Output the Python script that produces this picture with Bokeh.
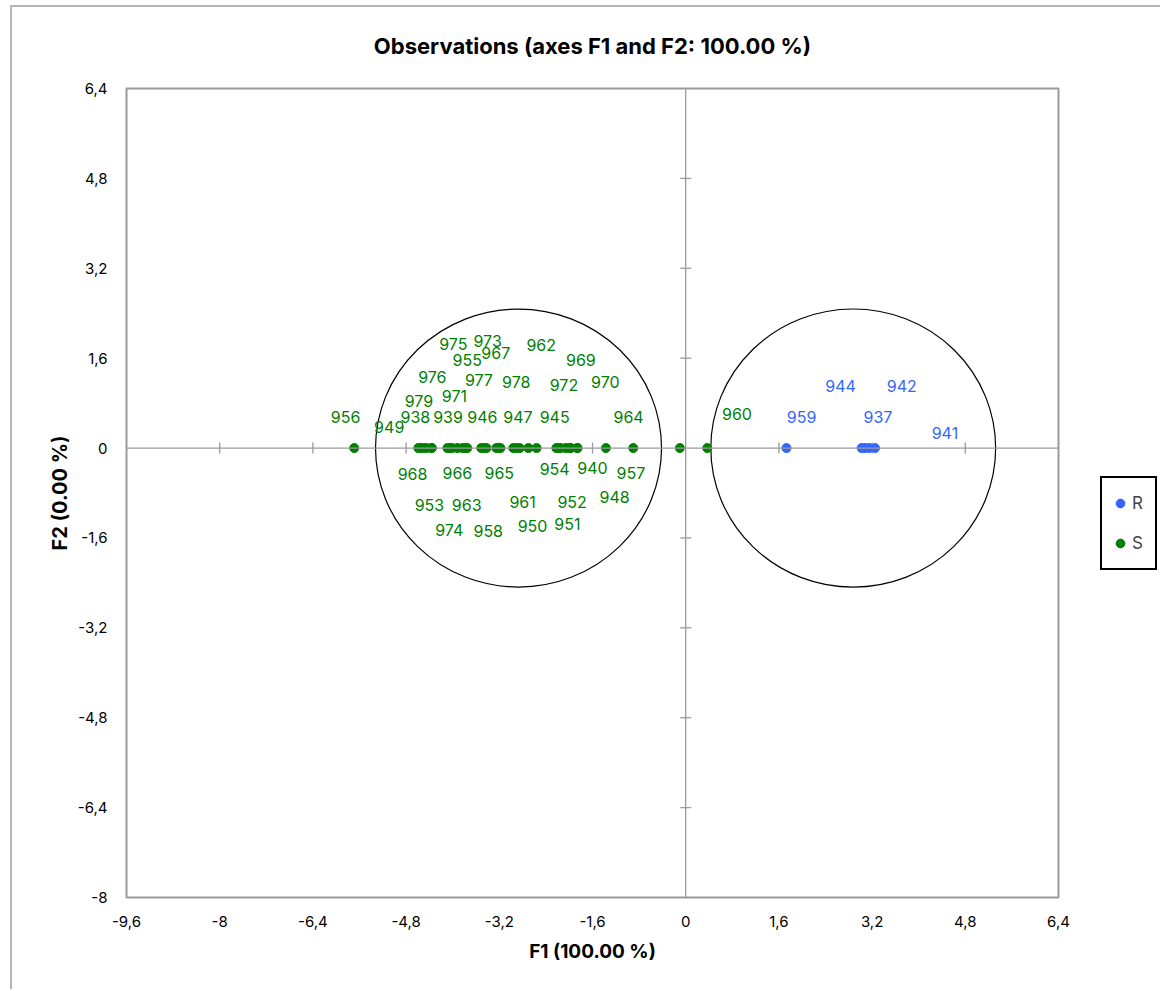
import numpy as np
from bokeh.plotting import figure
from bokeh.models import ColumnDataSource, FixedTicker, Legend, LegendItem, Span
from bokeh.core.properties import value
from bokeh.embed import file_html
from bokeh.resources import INLINE

# ---------------- data ----------------
obs_R = ["937", "941", "942", "944", "959"]
f1_R = [3.02, 3.25, 3.15, 3.08, 1.73]
f2_R = [0.0, 0.0, 0.0, 0.0, 0.0]
lab_x_R = [3.30, 4.45, 3.71, 2.66, 1.99]
lab_y_R = [0.56, 0.26, 1.11, 1.11, 0.56]

obs_S = ["956", "949", "938", "968", "979", "976", "953", "939", "975", "971",
         "974", "966", "955", "963", "977", "973", "958", "946", "967", "965",
         "978", "961", "947", "950", "962", "954", "945", "972", "951", "952",
         "940", "969", "948", "970", "964", "957", "960"]
f1_S = [-5.69, -4.59, -4.55, -4.50, -4.45, -4.36, -4.36, -4.09, -4.05, -4.01,
        -3.92, -3.83, -3.78, -3.75, -3.51, -3.47, -3.42, -3.25, -3.22, -3.18,
        -2.96, -2.90, -2.85, -2.70, -2.56, -2.22, -2.18, -2.15, -2.06, -2.00,
        -1.97, -1.86, -1.37, -1.86, -0.90, -0.10, 0.37]
f2_S = [0.0] * len(obs_S)
lab_x_S = [-5.84, -5.09, -4.64, -4.69, -4.58, -4.35, -4.40, -4.08, -3.99, -3.97,
           -4.06, -3.92, -3.75, -3.76, -3.55, -3.40, -3.39, -3.49, -3.26, -3.20,
           -2.91, -2.80, -2.88, -2.63, -2.48, -2.25, -2.25, -2.09, -2.03, -1.95,
           -1.60, -1.80, -1.22, -1.38, -0.98, -0.94, 0.88]
lab_y_S = [0.55, 0.37, 0.55, -0.46, 0.84, 1.26, -1.01, 0.55, 1.86, 0.92,
           -1.45, -0.45, 1.56, -1.01, 1.21, 1.90, -1.48, 0.55, 1.70, -0.45,
           1.18, -0.96, 0.55, -1.39, 1.84, -0.37, 0.55, 1.13, -1.35, -0.96,
           -0.36, 1.56, -0.87, 1.17, 0.55, -0.45, 0.61]

ell_group = ["S", "R"]
ell_cx = [-2.87, 2.876]
ell_cy = [0.0, 0.0]
ell_w = [4.91, 4.89]
ell_h = [4.95, 4.95]

x_ticks = [-9.6, -8, -6.4, -4.8, -3.2, -1.6, 0, 1.6, 3.2, 4.8, 6.4]
y_ticks = [-8, -6.4, -4.8, -3.2, -1.6, 0, 1.6, 3.2, 4.8, 6.4]
x_range = (-9.6, 6.4)
y_range = (-8, 6.4)

title = "Observations (axes F1 and F2: 100.00 %)"
x_label = "F1 (100.00 %)"
y_label = "F2 (0.00 %)"

BLUE = "#3366FF"
GREEN = "#008000"
GRID = "#9a9a9a"
FONT = "Inter"

def fmt(v):
    s = ("%g" % v)
    return s.replace(".", ",")

# ---------------- figure ----------------
p = figure(frame_width=932, frame_height=809,
           x_range=x_range, y_range=y_range,
           output_backend="svg", toolbar_location=None,
           min_border_left=116, min_border_right=100,
           min_border_top=88, min_border_bottom=92)
p.margin = (0, 0, 0, 10)
p.border_fill_alpha = 0
p.background_fill_color = "#ffffff"
p.styles = {
    "background": ("linear-gradient(#b4b4b4,#b4b4b4) 0 5px / 100% 2px no-repeat, "
                   "linear-gradient(#b4b4b4,#b4b4b4) 0 5px / 2px 100% no-repeat"),
}

p.title.text = title
p.title.align = "center"
p.title.text_font = FONT
p.title.text_font_size = "22px"
p.title.text_font_style = "bold"
p.title.text_color = "#000000"
p.title.offset = 0
p.title.standoff = 60

p.grid.visible = False
p.outline_line_color = GRID
p.outline_line_width = 2

for ax, ticks in ((p.xaxis[0], x_ticks), (p.yaxis[0], y_ticks)):
    ax.ticker = FixedTicker(ticks=ticks)
    ax.major_label_overrides = {t: fmt(t) for t in ticks}
    ax.axis_line_color = None
    ax.major_tick_line_color = None
    ax.minor_tick_line_color = None
    ax.major_label_text_font = FONT
    ax.major_label_text_font_size = "15px"
    ax.major_label_text_color = "#000000"
    ax.axis_label_text_font = FONT
    ax.axis_label_text_font_style = "bold"
    ax.axis_label_text_color = "#000000"

p.xaxis.axis_label = x_label
p.yaxis.axis_label = y_label
p.xaxis.axis_label_text_font_size = "19px"
p.yaxis.axis_label_text_font_size = "20px"
p.xaxis.major_label_standoff = 12
p.yaxis.major_label_standoff = 13
p.xaxis.axis_label_standoff = 10
p.yaxis.axis_label_standoff = 3

# central axes
p.add_layout(Span(location=0, dimension="width", line_color=GRID, line_width=1.3))
p.add_layout(Span(location=0, dimension="height", line_color=GRID, line_width=1.3))
xt = [t for t in x_ticks if t not in (0, x_range[0], x_range[1])]
yt = [t for t in y_ticks if t not in (0, y_range[0], y_range[1])]
p.scatter(x=xt, y=[0] * len(xt), marker="dash", angle=np.pi / 2, size=11,
          line_color=GRID, line_width=1.3)
p.scatter(x=[0] * len(yt), y=yt, marker="dash", size=11,
          line_color=GRID, line_width=1.3)

# confidence ellipses
p.ellipse(x=ell_cx, y=ell_cy, width=ell_w, height=ell_h,
          fill_color=None, line_color="#000000", line_width=1.2)

# points
srcR = ColumnDataSource(dict(x=f1_R, y=f2_R, lx=lab_x_R, ly=lab_y_R, t=obs_R))
srcS = ColumnDataSource(dict(x=f1_S, y=f2_S, lx=lab_x_S, ly=lab_y_S, t=obs_S))
rS = p.scatter("x", "y", source=srcS, size=9, color=GREEN)
rR = p.scatter("x", "y", source=srcR, size=9, color=BLUE)

for src, col in ((srcS, GREEN), (srcR, BLUE)):
    p.text(x="lx", y="ly", text="t", source=src, text_color=col,
           text_font=value(FONT), text_font_size="16px",
           text_align="center", text_baseline="middle")

legend = Legend(items=[LegendItem(label="R", renderers=[rR]),
                       LegendItem(label="S", renderers=[rS])],
                location=(42, 327))
legend.margin = 0
legend.border_line_color = "#000000"
legend.border_line_alpha = 1.0
legend.border_line_width = 2
legend.label_text_font = FONT
legend.label_text_font_size = "17px"
legend.glyph_width = 22
legend.glyph_height = 36
legend.label_height = 36
legend.label_width = 16
legend.spacing = 4
legend.padding = 7
legend.label_standoff = 1
legend.background_fill_color = "#ffffff"
legend.background_fill_alpha = 1
p.add_layout(legend, "right")

open("out.html", "w").write(file_html(p, INLINE))
